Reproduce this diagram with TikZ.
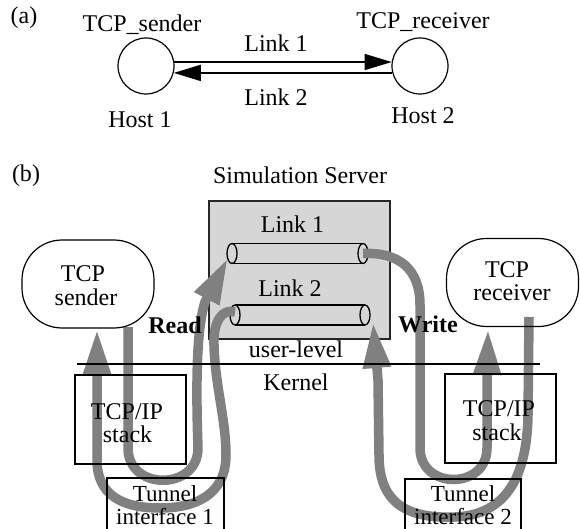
\documentclass[tikz,border=0pt]{standalone}
\usepackage{fontspec}
\setmainfont{Liberation Serif}
\usetikzlibrary{arrows.meta}
\definecolor{flowgray}{RGB}{128,128,128}
\definecolor{serverfill}{RGB}{214,214,214}
\begin{document}
\begin{tikzpicture}[x=1pt,y=-1pt,
  font=\fontsize{24}{23.5}\selectfont,
  lbl/.style={inner sep=0pt, anchor=base},
  twoline/.style={inner sep=0pt, anchor=north, align=center,
    font=\fontsize{23}{23}\selectfont},
  host/.style={draw, circle, line width=1.2pt, minimum size=56pt, inner sep=0pt},
  proc/.style={draw, rectangle, rounded corners=40pt, line width=1.2pt,
    minimum width=132pt, minimum height=88pt, inner sep=0pt},
  layerbox/.style={draw, line width=1.2pt, minimum width=111pt,
    minimum height=89pt, inner sep=0pt},
  thinlink/.style={line width=1.5pt, -{Triangle[length=27pt,width=16pt]}},
  flow/.style={draw=flowgray, line width=9.5pt, line join=round,
    -{Triangle[length=46pt,width=26pt]}},
  pipe/.style={line width=1.3pt},
]
\useasboundingbox (0,0) rectangle (580,529);

% ---------------- (a) two hosts joined by two links ----------------
\node[lbl] (tagA) at (24,24) {(a)};
\node[host] (h1) at (146,66) {};
\node[host] (h2) at (420,66) {};
\node[lbl] (h1name) at (142,32) {TCP\_sender};
\node[lbl] (h2name) at (423,28.5) {TCP\_receiver};
\node[lbl] (h1host) at (140,128) {Host 1};
\node[lbl] (h2host) at (423,124) {Host 2};
\node[lbl] (linkA1) at (276,51.5) {Link 1};
\node[lbl] (linkA2) at (276,106) {Link 2};
\draw[thinlink] (h1.8) -- (h2.172);
\draw[thinlink] (h2.194) -- (h1.-14);

% ---------------- (b) simulation server with two links ----------------
\node[lbl] (tagB) at (26,182) {(b)};
\node[lbl] (srvname) at (300,184) {Simulation Server};
\node[draw=black!85, line width=2pt, fill=serverfill, minimum width=181pt,
  minimum height=138pt, inner sep=0pt, anchor=north west] (server) at (208,200) {};

% link cylinders: west and east end centres
\coordinate (l1w) at (232,253.5);
\coordinate (l1e) at (363,253.5);
\coordinate (l2w) at (235,315);
\coordinate (l2e) at (365,315);
\foreach \w/\e in {l1w/l1e, l2w/l2e}{
  \fill[serverfill] ([yshift=10pt]\w) rectangle ([yshift=-10pt]\e);
  \draw[pipe] ([yshift=10pt]\w) -- ([yshift=10pt]\e)
              ([yshift=-10pt]\w) -- ([yshift=-10pt]\e);
  \draw[pipe, fill=serverfill] (\w) ellipse [x radius=5pt, y radius=10pt];
  \draw[pipe, fill=serverfill] (\e) ellipse [x radius=5pt, y radius=10pt];
}
\node[lbl] (linkB1) at (292.5,233) {Link 1};
\node[lbl] (linkB2) at (290,296.5) {Link 2};

% end points of the data paths
\coordinate (sndOut) at (128,327);
\coordinate (sndIn)  at (97,329);
\coordinate (rcvOut) at (529,317);
\coordinate (rcvIn)  at (488,329);
\coordinate (l1In)   at (228,258);
\coordinate (l2In)   at (373,322);

% data: sender -> tunnel 1 -> Link 1 (read)
\draw[flow] (sndOut) -- (128,448) .. controls (128,491) and (198,491) .. (198,448)
  .. controls (196,390) and (196,330) .. (205,302) -- (l1In);
% data: Link 1 (write) -> tunnel 2 -> receiver
\draw[flow] (l1e) .. controls (398,252) and (420,268) .. (420,305) -- (420,448)
  .. controls (420,490) and (487,490) .. (487,448) -- (487,380) -- (rcvIn);
% acks: receiver -> tunnel 2 -> Link 2 (read)
\draw[flow] (rcvOut) -- (528,415) .. controls (527,478) and (505,515) .. (455,517)
  .. controls (403,519) and (379,500) .. (379,455) -- (378,380) -- (l2In);
% acks: Link 2 (write) -> tunnel 1 -> sender
\draw[flow] ([yshift=3pt]l2w) .. controls (222,308) and (213,322) .. (214,345)
  .. controls (215,385) and (226,420) .. (226,455)
  .. controls (226,495) and (195,508) .. (160,508)
  .. controls (122,508) and (97,495) .. (97,460) -- (sndIn);

% hosts, kernel boundary and kernel boxes
\node[proc] (snd) at (88,284) {};
\node[proc] (rcv) at (512.5,282.5) {};
\node[lbl] at (83,281.7) {TCP};
\node[lbl] at (86,305) {sender};
\node[lbl] at (507,277) {TCP};
\node[lbl] at (512,300) {receiver};

\node[lbl, font=\fontsize{24}{23.5}\selectfont\bfseries] (rd) at (175,333) {Read};
\node[lbl, font=\fontsize{24}{23.5}\selectfont\bfseries] (wr) at (428,332) {Write};

\coordinate (kl) at (77,364);
\coordinate (kr) at (540,364);
\draw[line width=1.2pt] (kl) -- (kr);
\node[lbl] (ulev) at (296,357) {user-level};
\node[lbl] (kern) at (296,390) {Kernel};

\node[layerbox] (stk1) at (130.5,419.5) {};
\node[layerbox] (stk2) at (500.5,418.5) {};
\node[lbl] at (127,419) {TCP/IP};
\node[lbl] at (127.5,442) {stack};
\node[lbl] at (499,416) {TCP/IP};
\node[lbl] at (497,440) {stack};

\draw[line width=1.2pt] (107,529) |- (224,478) -- (224,529);
\draw[line width=1.2pt] (405,529) |- (521,479) -- (521,529);
\node[twoline] (tun1) at (165,485) {Tunnel\\interface 1};
\node[twoline] (tun2) at (463,485) {Tunnel\\interface 2};
\end{tikzpicture}
\end{document}
